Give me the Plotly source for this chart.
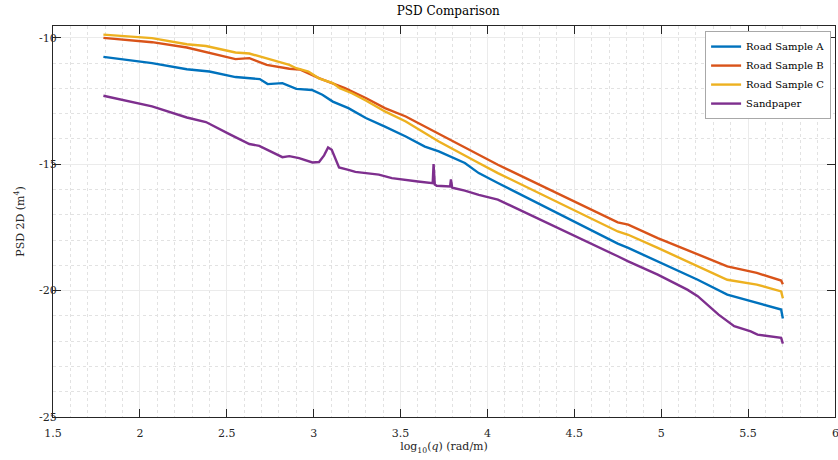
import plotly.graph_objects as go

# ---- data ----
qA = [1.79, 2.07, 2.27, 2.40, 2.55, 2.69, 2.735, 2.82, 2.90, 2.99, 3.05, 3.11, 3.20, 3.30, 3.41,
      3.53, 3.64, 3.72, 3.87, 3.95, 4.06, 4.75, 4.81, 4.98, 5.21, 5.38, 5.55, 5.69, 5.70]
psdA = [-10.75, -11.00, -11.24, -11.33, -11.55, -11.63, -11.83, -11.79, -12.02, -12.06, -12.25, -12.52,
        -12.78, -13.17, -13.51, -13.90, -14.30, -14.49, -14.95, -15.35, -15.74, -18.14, -18.31, -18.84,
        -19.57, -20.16, -20.49, -20.75, -21.10]

qB = [1.79, 2.07, 2.27, 2.38, 2.50, 2.55, 2.63, 2.73, 2.86, 2.92, 3.03, 3.11, 3.18, 3.30, 3.41, 3.53,
      3.64, 3.72, 3.95, 4.06, 4.75, 4.81, 4.98, 5.21, 5.38, 5.55, 5.69, 5.70]
psdB = [-10.00, -10.17, -10.38, -10.57, -10.76, -10.84, -10.80, -11.07, -11.22, -11.25, -11.59, -11.79,
        -11.99, -12.38, -12.78, -13.11, -13.51, -13.77, -14.62, -15.02, -17.30, -17.39, -17.92, -18.58,
        -19.04, -19.30, -19.60, -19.75]

qC = [1.79, 2.07, 2.27, 2.38, 2.55, 2.63, 2.76, 2.86, 2.90, 2.97, 3.03, 3.11, 3.15, 3.22, 3.30, 3.41,
      3.53, 3.64, 3.72, 3.95, 4.06, 4.75, 4.81, 4.98, 5.21, 5.38, 5.55, 5.69, 5.70]
psdC = [-9.87, -10.01, -10.25, -10.32, -10.58, -10.62, -10.87, -11.07, -11.20, -11.33, -11.60, -11.79,
        -11.99, -12.19, -12.48, -12.91, -13.31, -13.77, -14.10, -14.95, -15.35, -17.66, -17.79, -18.31,
        -19.04, -19.57, -19.76, -20.03, -20.30]

qD = [1.79, 2.07, 2.27, 2.38, 2.515, 2.63, 2.687, 2.744, 2.82, 2.86, 2.916, 2.993, 3.031, 3.06, 3.083,
      3.104, 3.146, 3.20, 3.24, 3.375, 3.45, 3.60, 3.67, 3.685, 3.690, 3.697, 3.708, 3.776, 3.785,
      3.790, 3.797, 3.805, 3.87, 3.95, 4.06, 4.75, 4.81, 4.98, 5.15, 5.21, 5.33, 5.42, 5.515, 5.554,
      5.69, 5.70]
psdD = [-12.29, -12.71, -13.15, -13.33, -13.81, -14.20, -14.27, -14.47, -14.72, -14.68, -14.76, -14.93,
        -14.91, -14.65, -14.34, -14.43, -15.13, -15.22, -15.30, -15.41, -15.55, -15.68, -15.74, -15.75,
        -14.99, -15.80, -15.85, -15.88, -15.88, -15.60, -15.92, -15.94, -16.04, -16.21, -16.40, -18.64,
        -18.84, -19.37, -19.96, -20.22, -20.95, -21.41, -21.61, -21.74, -21.87, -22.10]

names = ["Road Sample A", "Road Sample B", "Road Sample C", "Sandpaper"]
colors = ["#0072BD", "#D95319", "#EDB120", "#7E2F8E"]

ytick_vals = [-25, -20, -15, -10]
ytick_text = ["-25", "-20", "-15", "-10"]
xtick_vals = [1.5, 2, 2.5, 3, 3.5, 4, 4.5, 5, 5.5, 6]
xtick_text = ["1.5", "2", "2.5", "3", "3.5", "4", "4.5", "5", "5.5", "6"]

FONT = "'DejaVu Serif', 'Liberation Serif', serif"

fig = go.Figure()
for q, p, n, c in zip([qA, qB, qC, qD], [psdA, psdB, psdC, psdD], names, colors):
    fig.add_trace(go.Scatter(x=q, y=p, mode="lines", name=n,
                             line=dict(color=c, width=2.4)))

axis_common = dict(
    showline=True, linecolor="#262626", linewidth=1, mirror="allticks",
    ticks="inside", ticklen=8, tickcolor="#262626", tickwidth=1,
    showgrid=True, gridcolor="#ebebeb", gridwidth=1, zeroline=False,
    tickfont=dict(family=FONT, size=11, color="#262626"),
)

fig.update_xaxes(
    range=[1.5, 6], tickvals=xtick_vals, ticktext=xtick_text, ticklabelstandoff=6,
    minor=dict(dtick=0.1, tick0=1.5, showgrid=True, gridcolor="#e2e2e2", griddash="dot", gridwidth=1, ticks=""),
    title=dict(text="log<sub>10</sub>(<i>q</i>) (rad/m)", font=dict(family=FONT, size=11, color="#262626"), standoff=3),
    **axis_common)
fig.update_yaxes(
    range=[-25, -9.53], tickvals=ytick_vals, ticktext=ytick_text, ticklabelstandoff=-7,
    minor=dict(dtick=1, tick0=-25, showgrid=True, gridcolor="#e2e2e2", griddash="dot", gridwidth=1, ticks=""),
    title=dict(text="PSD 2D (m<sup>4</sup>)", font=dict(family=FONT, size=11, color="#262626"), standoff=12),
    **axis_common)

# right-most x tick label (plotly drops it because it overflows the page edge)
fig.add_annotation(x=xtick_vals[-1], y=0, xref="x", yref="paper", text=xtick_text[-1],
                   showarrow=False, xanchor="center", yanchor="top", yshift=-8,
                   font=dict(family=FONT, size=11, color="#262626"))

fig.update_layout(
    width=838, height=460,
    margin=dict(l=53, r=3, t=26, b=43),
    paper_bgcolor="white", plot_bgcolor="white",
    title=dict(text="PSD Comparison", x=0.535, xanchor="center", y=0.985, yanchor="top",
               font=dict(family=FONT, size=12, color="#000000")),
    legend=dict(x=0.995, xanchor="right", y=0.987, yanchor="top",
                bgcolor="white", bordercolor="#a8a8a8", borderwidth=1,
                font=dict(family=FONT, size=10, color="#000000"),
                itemwidth=30, tracegroupgap=0),
    showlegend=True,
)

fig.write_html("out.html")
